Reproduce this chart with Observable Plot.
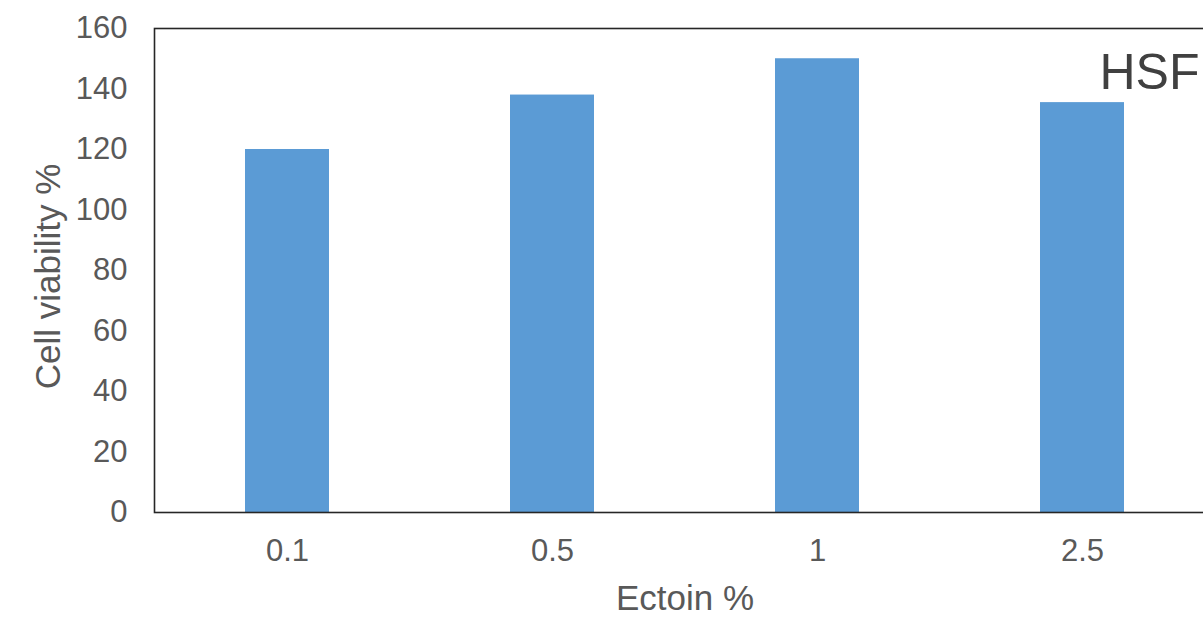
<!DOCTYPE html>
<html>
<head>
<meta charset="utf-8">
<script src="https://cdn.jsdelivr.net/npm/d3@7"></script>
<script src="https://cdn.jsdelivr.net/npm/@observablehq/plot@0.6"></script>
<style>
  html, body { margin: 0; padding: 0; background: #fff; overflow: hidden; }
  #chart { width: 1203px; height: 618px; overflow: hidden; }
  #chart svg { display: block; max-width: none !important; width: 1215px !important; height: 618px !important; }
</style>
</head>
<body>
<div id="chart"></div>
<script>
// Ectoin concentration (%) and HSF cell viability (%)
const concentrations = ["0.1", "0.5", "1", "2.5"];
const viability = [120, 138, 150, 135.5];
const yTicks = [0, 20, 40, 60, 80, 100, 120, 140, 160];
const cellLine = "HSF";
const xTitle = "Ectoin %";
const yTitle = "Cell viability %";

const rows = concentrations.map((c, i) => ({conc: c, value: viability[i]}));

const font = "'Liberation Sans', Arial, sans-serif";
const labelColor = "#595959";

const chart = Plot.plot({
  width: 1215,
  height: 618,
  marginLeft: 154,
  marginRight: 0,
  marginTop: 28,
  marginBottom: 106,
  style: {fontFamily: font, background: "#fff", overflow: "visible"},
  x: {domain: concentrations, paddingInner: 0.683, paddingOuter: 0.3415, axis: null},
  y: {domain: [0, 160], axis: null},
  marks: [
    Plot.barY(rows, {x: "conc", y: "value", fill: "#5B9BD5"}),
    Plot.frame({stroke: "#262626", strokeWidth: 1.6}),
    Plot.axisY(yTicks, {
      tickSize: 0, tickPadding: 27, fontSize: 31, fill: labelColor,
      tickFormat: d => String(d), label: null
    }),
    Plot.axisX(concentrations, {
      tickSize: 0, tickPadding: 0, fontSize: 31, fill: labelColor,
      lineAnchor: "middle", dy: 39, label: null
    }),
    Plot.text([xTitle], {
      frameAnchor: "bottom", text: d => d, dy: 86, lineAnchor: "middle",
      fontSize: 35, fill: labelColor
    }),
    Plot.text([yTitle], {
      frameAnchor: "left", text: d => d, dx: -106, dy: 6, rotate: -90,
      lineAnchor: "middle", textAnchor: "middle", fontSize: 35, fill: labelColor
    }),
    Plot.text([cellLine], {
      frameAnchor: "top-left", text: d => d, dx: 945, dy: 44,
      textAnchor: "start", lineAnchor: "middle", fontSize: 50, fill: "#404040"
    })
  ]
});

document.getElementById("chart").append(chart);
</script>
</body>
</html>
